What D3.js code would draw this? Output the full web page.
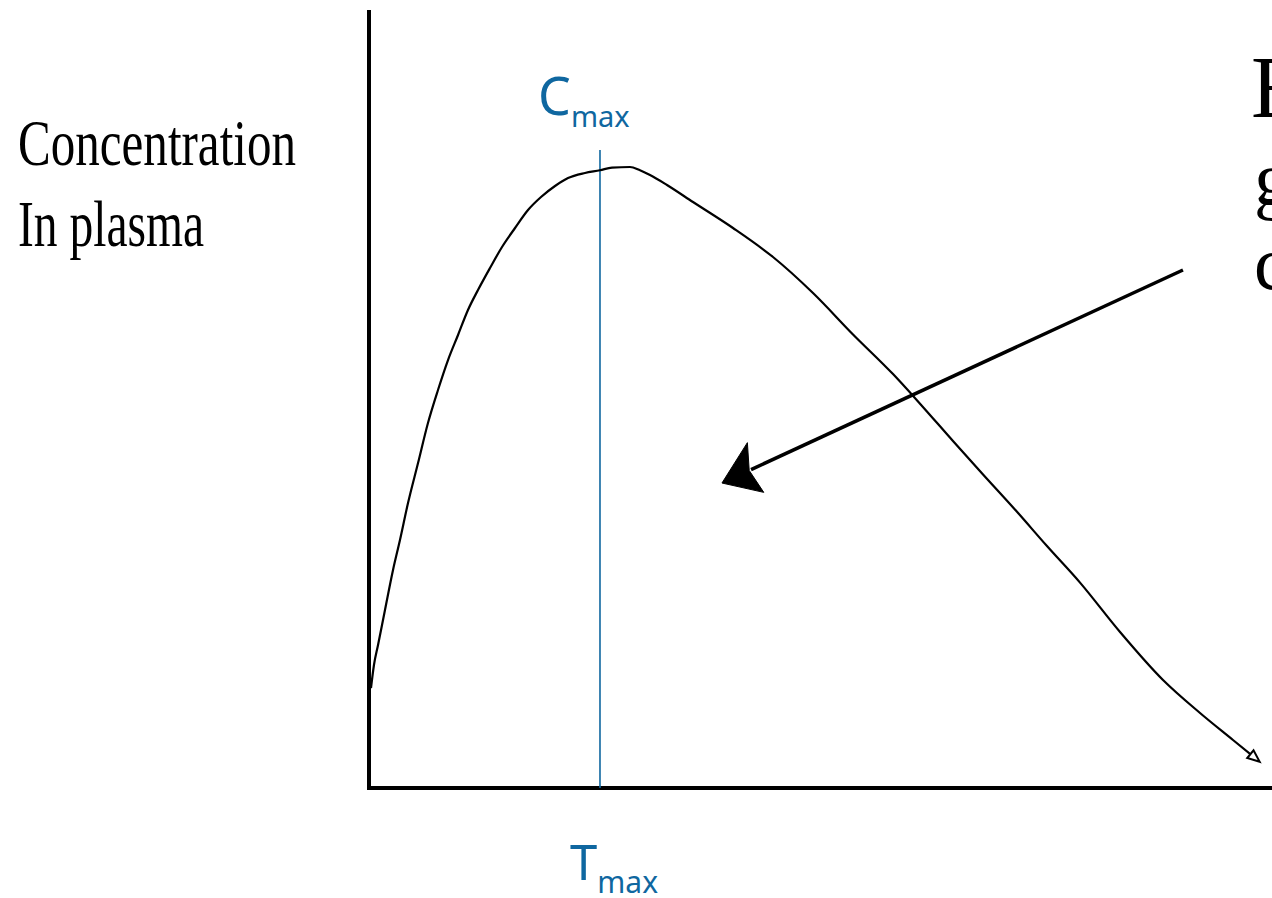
<!DOCTYPE html>
<html>
<head>
<meta charset="utf-8">
<script src="https://cdn.jsdelivr.net/npm/d3@7"></script>
<style>
  html, body { margin: 0; padding: 0; background: #ffffff; }
  svg { display: block; }
</style>
</head>
<body>
<svg id="chart" width="1272" height="898"></svg>
<script>
// ---- data (time in %, concentration in % of axis range) ----
const timeValues = [0.22, 0.55, 1.0, 1.77, 2.66, 3.43, 4.32, 5.43, 6.53, 7.64, 8.75, 9.86, 10.96, 12.07, 13.40, 14.73, 16.17, 17.61, 19.05, 20.60, 22.04, 23.92, 25.58, 26.91, 28.90, 30.01, 31.12, 33.00, 35.88, 40.31, 44.74, 49.17, 53.60, 58.03, 61.02, 64.67, 68.00, 71.76, 75.08, 78.74, 83.17, 87.93, 92.03, 95.68, 98.12];
const concValues = [12.85, 15.81, 18.38, 22.88, 28.02, 31.88, 36.63, 41.77, 46.92, 51.16, 55.01, 58.23, 61.44, 64.01, 66.84, 69.54, 71.98, 74.29, 75.96, 77.38, 78.40, 79.05, 79.40, 79.75, 79.82, 79.40, 78.79, 77.51, 75.32, 71.98, 68.25, 63.62, 58.30, 53.20, 49.40, 44.60, 40.30, 35.50, 31.10, 26.40, 20.05, 13.88, 9.64, 6.17, 3.86];

const tmaxValue = 25.58;        // time of the peak line
const tmaxLineTop = 82.0;       // top of the Tmax guide line
const arrowStart = [90.14, 66.58];
const arrowTip = [39.09, 39.20];

const yLabelLines = ["Concentration", "In plasma"];
const rightLetters = ["E", "g", "c"];

// ---- layout ----
const svg = d3.select("#chart");
const x = d3.scaleLinear().domain([0, 100]).range([369, 1272]);
const y = d3.scaleLinear().domain([0, 100]).range([788, 10]);

// axes (no ticks)
const xAxis = d3.axisBottom(x).tickValues([]).tickSizeOuter(0);
const yAxis = d3.axisLeft(y).tickValues([]).tickSizeOuter(0);
svg.append("g").attr("transform", `translate(0,${y(0)})`).call(xAxis)
  .select(".domain").attr("stroke", "#000").attr("stroke-width", 4)
  .attr("d", `M${x(0) - 2},0H${x(100)}`);
svg.append("g").attr("transform", `translate(${x(0)},0)`).call(yAxis)
  .select(".domain").attr("stroke", "#000").attr("stroke-width", 4)
  .attr("d", `M0,${y(100)}V${y(0) + 2}`);

// Tmax guide line
svg.append("line")
  .attr("x1", x(tmaxValue)).attr("x2", x(tmaxValue))
  .attr("y1", y(tmaxLineTop)).attr("y2", y(0))
  .attr("stroke", "#0f67a0").attr("stroke-width", 1.6);

// concentration curve
const pts = timeValues.map((t, i) => [t, concValues[i]]);
const line = d3.line().x(d => x(d[0])).y(d => y(d[1])).curve(d3.curveMonotoneX);
svg.append("path").datum(pts)
  .attr("d", line)
  .attr("fill", "none").attr("stroke", "#000").attr("stroke-width", 2.2);

// small open arrowhead at curve end
{
  const a = pts[pts.length - 2], b = pts[pts.length - 1];
  const ax = x(a[0]), ay = y(a[1]), bx = x(b[0]), by = y(b[1]);
  const L = Math.hypot(bx - ax, by - ay);
  const ux = (bx - ax) / L, uy = (by - ay) / L;
  const nx = -uy, ny = ux;
  const tipX = bx + ux * 6, tipY = by + uy * 6;
  const bcX = tipX - ux * 12, bcY = tipY - uy * 12;
  svg.append("path")
    .attr("d", `M${tipX},${tipY}L${bcX + nx * 5},${bcY + ny * 5}L${bcX - nx * 5},${bcY - ny * 5}Z`)
    .attr("fill", "#fff").attr("stroke", "#000").attr("stroke-width", 2);
}

// annotation arrow
{
  const sx = x(arrowStart[0]), sy = y(arrowStart[1]);
  const tx = x(arrowTip[0]), ty = y(arrowTip[1]);
  const L = Math.hypot(tx - sx, ty - sy);
  const ux = (tx - sx) / L, uy = (ty - sy) / L;
  const nx = -uy, ny = ux;
  const headLen = 36, headHalf = 26;
  const bcX = tx - ux * headLen, bcY = ty - uy * headLen;
  svg.append("line")
    .attr("x1", sx).attr("y1", sy).attr("x2", bcX + ux * 4).attr("y2", bcY + uy * 4)
    .attr("stroke", "#000").attr("stroke-width", 3.5);
  svg.append("path")
    .attr("d", `M${tx},${ty}L${bcX + nx * headHalf - ux * 4},${bcY + ny * headHalf - uy * 4}L${bcX + ux * 6},${bcY + uy * 6}L${bcX - nx * headHalf + ux * 2},${bcY - ny * headHalf + uy * 2}Z`)
    .attr("fill", "#000").attr("stroke", "#000").attr("stroke-width", 1);
}

// Cmax label
const cmax = svg.append("text")
  .attr("x", 538).attr("y", 115)
  .attr("font-family", "Noto Sans, sans-serif")
  .attr("fill", "#0f67a0");
cmax.append("tspan").attr("font-size", 52).text("C");
cmax.append("tspan").attr("font-size", 29).attr("dy", 12).text("max");

// Tmax label
const tmax = svg.append("text")
  .attr("x", 570).attr("y", 880)
  .attr("font-family", "Noto Sans, sans-serif")
  .attr("fill", "#0f67a0");
tmax.append("tspan").attr("font-size", 49).text("T");
tmax.append("tspan").attr("font-size", 30).attr("dy", 13).text("max");

// y-axis label (two lines, condensed serif)
const yLab = svg.append("g").attr("font-family", "Liberation Serif, serif").attr("fill", "#000");
yLab.append("text").attr("x", 18).attr("y", 165).attr("font-size", 66)
  .attr("textLength", 278).attr("lengthAdjust", "spacingAndGlyphs").text(yLabelLines[0]);
yLab.append("text").attr("x", 18).attr("y", 246).attr("font-size", 66)
  .attr("textLength", 186).attr("lengthAdjust", "spacingAndGlyphs").text(yLabelLines[1]);

// clipped letters at the right edge
const rl = svg.append("g").attr("font-family", "Liberation Serif, serif").attr("fill", "#000");
rl.append("text").attr("x", 1251).attr("y", 117).attr("font-size", 88).text(rightLetters[0]);
rl.append("text").attr("x", 1254).attr("y", 205).attr("font-size", 76).text(rightLetters[1]);
rl.append("text").attr("x", 1254).attr("y", 289).attr("font-size", 76).text(rightLetters[2]);
</script>
</body>
</html>
